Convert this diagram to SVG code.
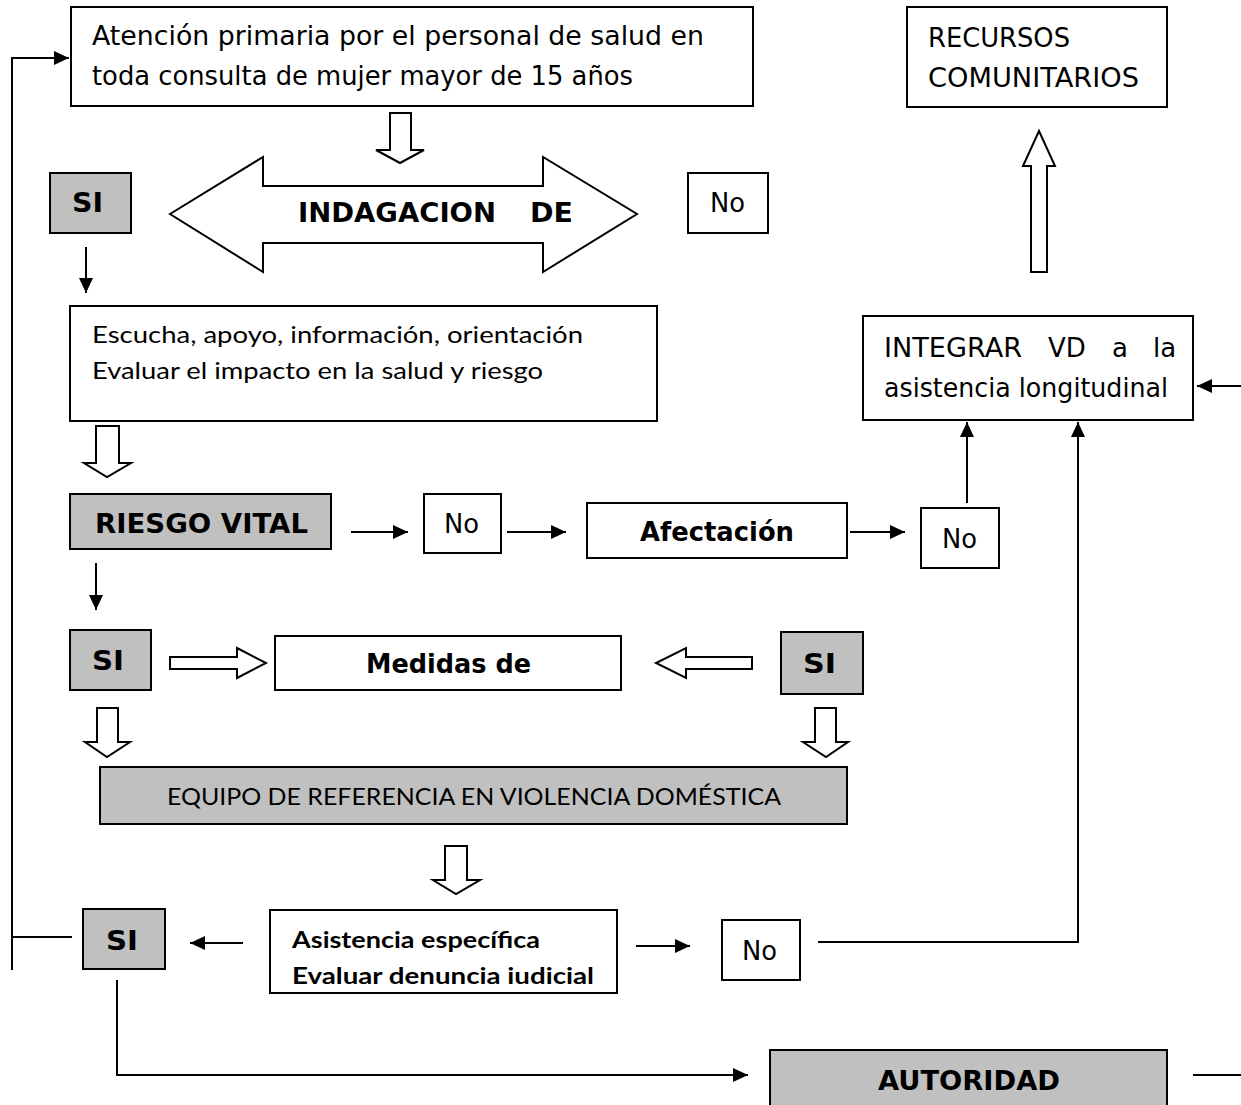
<svg xmlns="http://www.w3.org/2000/svg" width="1241" height="1105" viewBox="0 0 1241 1105">
<style>
.box{fill:#ffffff;stroke:#000;stroke-width:2}
.gbox{fill:#c0c0c0;stroke:#000;stroke-width:2}
.t{font-family:"DejaVu Sans","Liberation Sans",sans-serif;font-size:26px;fill:#000}
.b{font-family:"DejaVu Sans","Liberation Sans",sans-serif;font-size:26px;font-weight:bold;fill:#000}
.c{font-family:Lato,"Open Sans","Liberation Sans",sans-serif;font-size:24px;fill:#000}
.cb{font-family:Lato,"Open Sans","Liberation Sans",sans-serif;font-size:23px;font-weight:bold;fill:#000}
.ln{fill:none;stroke:#000;stroke-width:2}
.ha{fill:#fff;stroke:#000;stroke-width:2;stroke-linejoin:miter}
</style>
<defs>
<marker id="ah" markerUnits="userSpaceOnUse" markerWidth="16" markerHeight="14" refX="15" refY="7" orient="auto">
<path d="M0,0 L15,7 L0,14 z" fill="#000"/>
</marker>
</defs>
<rect width="1241" height="1105" fill="#fff"/>

<g id="n-atencion">
<rect class="box" x="71" y="7" width="682" height="99"/>
<text class="t" x="92" y="45" textLength="612" lengthAdjust="spacingAndGlyphs">Atención primaria por el personal de salud en</text>
<text class="t" x="92" y="85" textLength="541" lengthAdjust="spacingAndGlyphs">toda consulta de mujer mayor de 15 años</text>
</g>

<g id="n-recursos">
<rect class="box" x="907" y="7" width="260" height="100"/>
<text class="t" x="928" y="47" textLength="142" lengthAdjust="spacingAndGlyphs">RECURSOS</text>
<text class="t" x="928" y="87" textLength="211" lengthAdjust="spacingAndGlyphs">COMUNITARIOS</text>
</g>

<g id="n-indagacion">
<polygon class="ha" points="170,214 263,157 263,186 543,186 543,157 637,214 543,272 543,243 263,243 263,272"/>
<text class="b" x="298" y="222" textLength="198" lengthAdjust="spacingAndGlyphs">INDAGACION</text>
<text class="b" x="530" y="222" textLength="43" lengthAdjust="spacingAndGlyphs">DE</text>
</g>

<g id="n-si1">
<rect class="gbox" x="50" y="173" width="81" height="60"/>
<text class="b" x="72" y="212" textLength="31" lengthAdjust="spacingAndGlyphs">SI</text>
</g>

<g id="n-no1">
<rect class="box" x="688" y="173" width="80" height="60"/>
<text class="t" x="710" y="212" textLength="35" lengthAdjust="spacingAndGlyphs">No</text>
</g>

<g id="n-escucha">
<rect class="box" x="70" y="306" width="587" height="115"/>
<text class="c" x="92" y="343" textLength="491" lengthAdjust="spacingAndGlyphs">Escucha, apoyo, información, orientación</text>
<text class="c" x="92" y="379" textLength="451" lengthAdjust="spacingAndGlyphs">Evaluar el impacto en la salud y riesgo</text>
</g>

<g id="n-integrar">
<rect class="box" x="863" y="316" width="330" height="104"/>
<text class="t" x="884" y="357" textLength="138" lengthAdjust="spacingAndGlyphs">INTEGRAR</text>
<text class="t" x="1048" y="357">VD</text>
<text class="t" x="1112" y="357">a</text>
<text class="t" x="1153" y="357">la</text>
<text class="t" x="884" y="397" textLength="284" lengthAdjust="spacingAndGlyphs">asistencia longitudinal</text>
</g>

<g id="n-riesgo">
<rect class="gbox" x="70" y="494" width="261" height="55"/>
<text class="b" x="95" y="533" textLength="213" lengthAdjust="spacingAndGlyphs">RIESGO VITAL</text>
</g>

<g id="n-no2">
<rect class="box" x="424" y="494" width="77" height="59"/>
<text class="t" x="444" y="533" textLength="35" lengthAdjust="spacingAndGlyphs">No</text>
</g>

<g id="n-afectacion">
<rect class="box" x="587" y="503" width="260" height="55"/>
<text class="b" x="640" y="541" textLength="154" lengthAdjust="spacingAndGlyphs">Afectación</text>
</g>

<g id="n-no3">
<rect class="box" x="921" y="508" width="78" height="60"/>
<text class="t" x="942" y="548" textLength="35" lengthAdjust="spacingAndGlyphs">No</text>
</g>

<g id="n-si2">
<rect class="gbox" x="70" y="630" width="81" height="60"/>
<text class="b" x="92" y="670" textLength="32" lengthAdjust="spacingAndGlyphs">SI</text>
</g>

<g id="n-medidas">
<rect class="box" x="275" y="636" width="346" height="54"/>
<text class="b" x="366" y="673" textLength="165" lengthAdjust="spacingAndGlyphs">Medidas de</text>
</g>

<g id="n-si3">
<rect class="gbox" x="781" y="632" width="82" height="62"/>
<text class="b" x="803" y="673" textLength="33" lengthAdjust="spacingAndGlyphs">SI</text>
</g>

<g id="n-equipo">
<rect class="gbox" x="100" y="767" width="747" height="57"/>
<text class="c" x="167" y="805" textLength="614" lengthAdjust="spacingAndGlyphs">EQUIPO DE REFERENCIA EN VIOLENCIA DOMÉSTICA</text>
</g>

<g id="n-asistencia">
<rect class="box" x="270" y="910" width="347" height="83"/>
<text class="cb" x="292" y="948" textLength="248" lengthAdjust="spacingAndGlyphs">Asistencia específica</text>
<text class="cb" x="292" y="984" textLength="302" lengthAdjust="spacingAndGlyphs">Evaluar denuncia iudicial</text>
</g>

<g id="n-si4">
<rect class="gbox" x="83" y="909" width="82" height="60"/>
<text class="b" x="106" y="950" textLength="32" lengthAdjust="spacingAndGlyphs">SI</text>
</g>

<g id="n-no4">
<rect class="box" x="722" y="920" width="78" height="60"/>
<text class="t" x="742" y="960" textLength="35" lengthAdjust="spacingAndGlyphs">No</text>
</g>

<g id="n-autoridad">
<rect class="gbox" x="770" y="1050" width="397" height="70"/>
<text class="b" x="878" y="1090" textLength="182" lengthAdjust="spacingAndGlyphs">AUTORIDAD</text>
</g>

<g id="connectors">
<polygon class="ha" points="390,113 411,113 411,150 424,150 400,163 376,150 390,150"/>
<polygon class="ha" points="96,426 119,426 119,463 131,463 107,477 84,463 96,463"/>
<polygon class="ha" points="97,708 118,708 118,742 130,742 107,757 85,742 97,742"/>
<polygon class="ha" points="815,708 836,708 836,742 848,742 826,757 803,742 815,742"/>
<polygon class="ha" points="445,846 467,846 467,880 480,880 456,894 433,880 445,880"/>
<polygon class="ha" points="170,657 237,657 237,648 266,663 237,678 237,669 170,669"/>
<polygon class="ha" points="752,657 686,657 686,648 656,663 686,678 686,669 752,669"/>
<polygon class="ha" points="1031,272 1047,272 1047,166 1055,166 1039,131 1023,166 1031,166"/>

<polyline class="ln" points="12,970 12,58 69,58" marker-end="url(#ah)"/>
<line class="ln" x1="12" y1="937" x2="72" y2="937"/>
<line class="ln" x1="86" y1="247" x2="86" y2="293" marker-end="url(#ah)"/>
<line class="ln" x1="96" y1="563" x2="96" y2="610" marker-end="url(#ah)"/>
<line class="ln" x1="351" y1="532" x2="408" y2="532" marker-end="url(#ah)"/>
<line class="ln" x1="507" y1="532" x2="566" y2="532" marker-end="url(#ah)"/>
<line class="ln" x1="850" y1="532" x2="905" y2="532" marker-end="url(#ah)"/>
<line class="ln" x1="967" y1="503" x2="967" y2="422" marker-end="url(#ah)"/>
<polyline class="ln" points="818,942 1078,942 1078,422" marker-end="url(#ah)"/>
<line class="ln" x1="1241" y1="386" x2="1197" y2="386" marker-end="url(#ah)"/>
<line class="ln" x1="243" y1="943" x2="190" y2="943" marker-end="url(#ah)"/>
<line class="ln" x1="636" y1="946" x2="690" y2="946" marker-end="url(#ah)"/>
<polyline class="ln" points="117,980 117,1075 748,1075" marker-end="url(#ah)"/>
<line class="ln" x1="1193" y1="1075" x2="1241" y2="1075"/>
</g>
</svg>
